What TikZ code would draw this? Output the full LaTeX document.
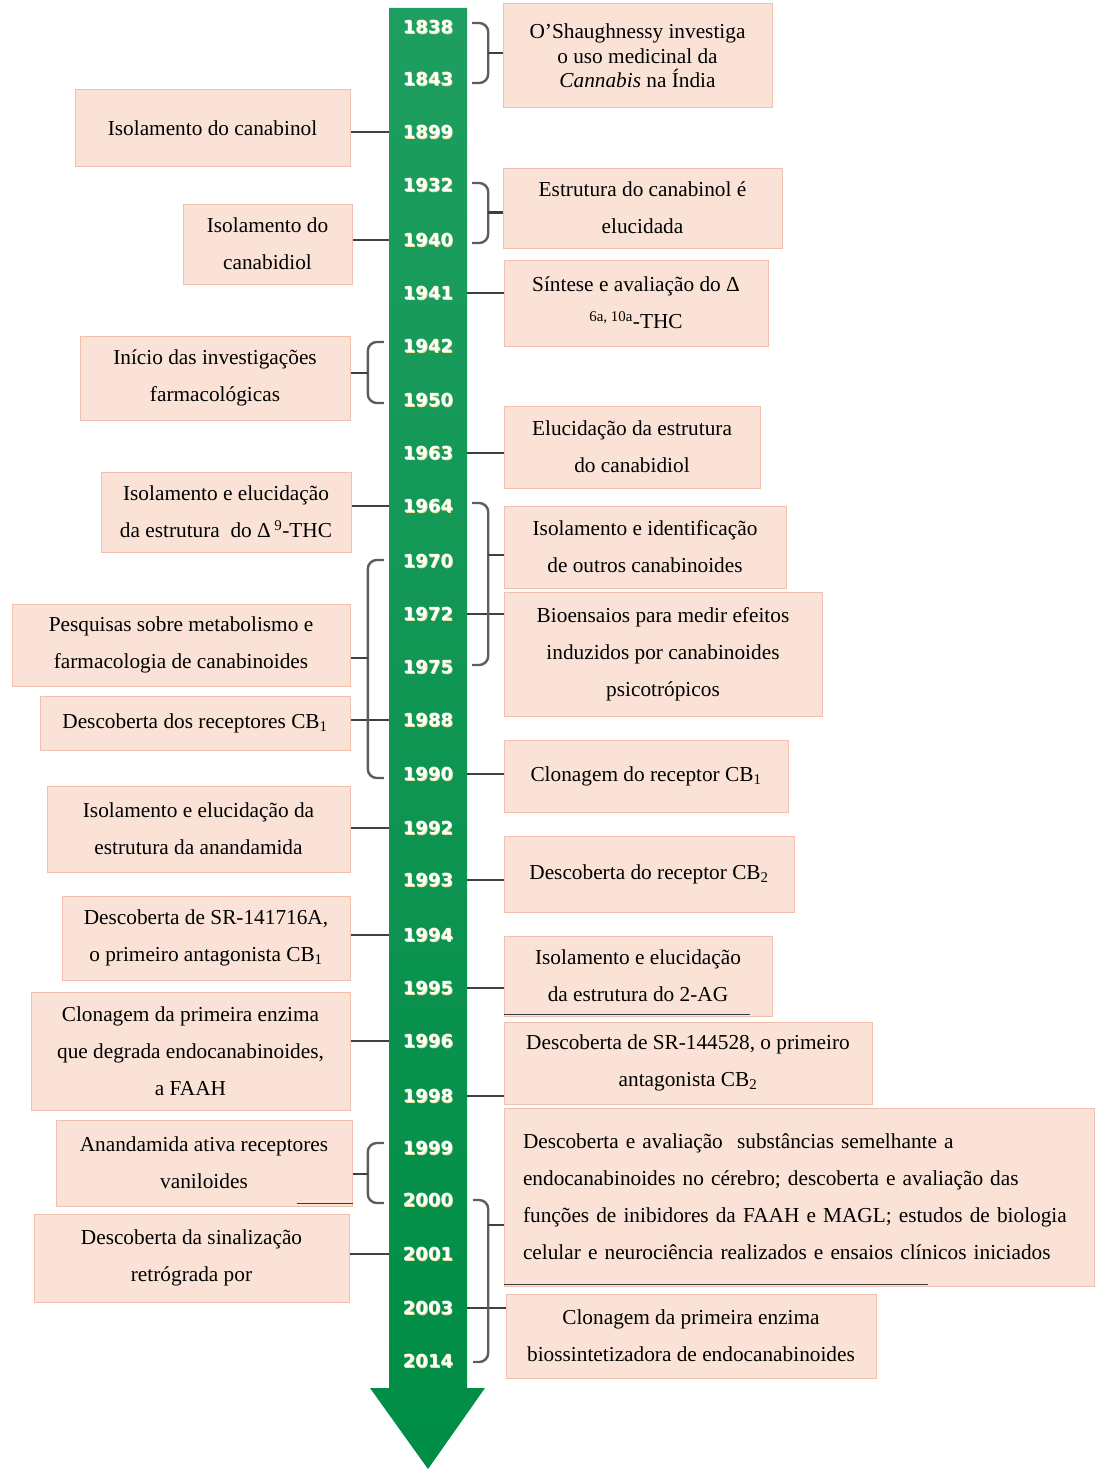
\documentclass[tikz,border=0pt]{standalone}
\usepackage{fontspec}
\setmainfont{Liberation Serif}
\newfontfamily\yearfont{DejaVu Sans}
\usetikzlibrary{calc}
\definecolor{boxfill}{HTML}{FAE3D6}
\definecolor{boxline}{HTML}{F0BFAE}
\definecolor{bartop}{HTML}{1E9E60}
\definecolor{barbot}{HTML}{008D45}
\definecolor{linkgray}{HTML}{404040}
\definecolor{bracegray}{HTML}{5C5C5C}
\definecolor{shadowgray}{HTML}{3A3A3A}
\definecolor{yearglow}{HTML}{E8E49A}
\tikzset{
  evbox/.style={draw=boxline, line width=1pt, fill=boxfill, align=center, inner sep=0pt,
    font=\fontsize{21.3}{37}\selectfont},
  year/.style={text=white, font=\yearfont\bfseries\fontsize{18}{18}\selectfont,
    minimum width=78pt, inner sep=0pt},
  link/.style={draw=linkgray, line width=2.2pt},
  brace/.style={draw=bracegray, line width=2.4pt, rounded corners=9pt},
  shadowline/.style={draw=shadowgray, line width=1.6pt},
}
\begin{document}
\begin{tikzpicture}[x=1pt, y=-1pt]
\useasboundingbox (0,0) rectangle (1101,1469);

% green time arrow
\shade[top color=bartop, bottom color=barbot]
  (389,8) -- (467,8) -- (467,1388) -- (485,1388) -- (428,1469) -- (370,1388) -- (389,1388) -- cycle;

% years on the arrow, each with a faint yellow halo behind it
\foreach \yr/\yy in {1838/27, 1843/79, 1899/132, 1932/185, 1940/240, 1941/293, 1942/346,
  1950/400, 1963/453, 1964/506, 1970/561, 1972/614, 1975/667, 1988/720, 1990/774,
  1992/828, 1993/880, 1994/935, 1995/988, 1996/1041, 1998/1096, 1999/1148, 2000/1200,
  2001/1254, 2003/1308, 2014/1361}{
  \node[year, text=yearglow] (g\yr) at (428.9,\yy+0.9) {\yr};
  \node[year] (y\yr) at (428,\yy) {\yr};
}

% events, right side
\node[evbox, minimum width=269pt, minimum height=104pt, font=\fontsize{21.3}{24.5}\selectfont]
  (R1) at (637.5,56) {O’Shaughnessy investiga\\o uso medicinal da\\\textit{Cannabis} na Índia};
\node[evbox, minimum width=279pt, minimum height=80pt] (R2) at (642.5,208)
  {Estrutura do canabinol é\\elucidada};
\node[evbox, minimum width=264pt, minimum height=86pt] (R3) at (636,303)
  {Síntese e avaliação do Δ\\\textsuperscript{6a, 10a}-THC};
\node[evbox, minimum width=256pt, minimum height=82pt] (R4) at (632,447)
  {Elucidação da estrutura\\do canabidiol};
\node[evbox, minimum width=282pt, minimum height=82pt] (R5) at (645,547)
  {Isolamento e identificação\\de outros canabinoides};
\node[evbox, minimum width=318pt, minimum height=124pt] (R6) at (663,654)
  {Bioensaios para medir efeitos\\induzidos por canabinoides\\psicotrópicos};
\node[evbox, minimum width=284pt, minimum height=72pt] (R7) at (646,776)
  {Clonagem do receptor CB\textsubscript{1}};
\node[evbox, minimum width=290pt, minimum height=76pt] (R8) at (649,874)
  {Descoberta do receptor CB\textsubscript{2}};
\node[evbox, minimum width=268pt, minimum height=80pt] (R9) at (638,976)
  {Isolamento e elucidação\\da estrutura do 2-AG};
\node[evbox, minimum width=368pt, minimum height=82pt] (R10) at (688,1063)
  {Descoberta de SR-144528, o primeiro\\antagonista CB\textsubscript{2}};
\node[evbox, minimum width=590pt, minimum height=178pt, align=left, text width=552pt]
  (R11) at (799,1197)
  {Descoberta e avaliação\ \ substâncias semelhante a\\endocanabinoides no cérebro; descoberta e avaliação das\\funções de inibidores da FAAH e MAGL; estudos de biologia\\celular e neurociência realizados e ensaios clínicos iniciados};
\node[evbox, minimum width=370pt, minimum height=84pt] (R12) at (691,1336)
  {Clonagem da primeira enzima\\biossintetizadora de endocanabinoides};

% events, left side
\node[evbox, minimum width=275pt, minimum height=76pt] (L1) at (212.5,128)
  {Isolamento do canabinol};
\node[evbox, minimum width=169pt, minimum height=80pt] (L2) at (267.5,244)
  {Isolamento do\\canabidiol};
\node[evbox, minimum width=270pt, minimum height=84pt] (L3) at (215,378)
  {Início das investigações\\farmacológicas};
\node[evbox, minimum width=250pt, minimum height=80pt] (L4) at (226,512)
  {Isolamento e elucidação\\da estrutura\ \ do Δ\,\textsuperscript{9}-THC};
\node[evbox, minimum width=338pt, minimum height=82pt] (L5) at (181,645)
  {Pesquisas sobre metabolismo e\\farmacologia de canabinoides};
\node[evbox, minimum width=310pt, minimum height=54pt] (L6) at (195,723)
  {Descoberta dos receptores CB\textsubscript{1}};
\node[evbox, minimum width=303pt, minimum height=86pt] (L7) at (198.5,829)
  {Isolamento e elucidação da\\estrutura da anandamida};
\node[evbox, minimum width=288pt, minimum height=84pt] (L8) at (206,938)
  {Descoberta de SR-141716A,\\o primeiro antagonista CB\textsubscript{1}};
\node[evbox, minimum width=319pt, minimum height=118pt] (L9) at (190.5,1051)
  {Clonagem da primeira enzima\\que degrada endocanabinoides,\\a FAAH};
\node[evbox, minimum width=296pt, minimum height=86pt] (L10) at (204,1163)
  {Anandamida ativa receptores\\vaniloides};
\node[evbox, minimum width=315pt, minimum height=88pt] (L11) at (191.5,1258)
  {Descoberta da sinalização\\retrógrada por};

% thin shadows under a few boxes
\draw[shadowline] ([yshift=2pt]R9.south west) -- ++(246,0);
\draw[shadowline] ([yshift=2pt]R11.south west) -- ++(424,0);
\draw[shadowline] ([yshift=3pt]L10.south east) -- ++(-56,0);

% single-year connectors
\draw[link] (y1899.west) -- (y1899.west -| L1.east);
\draw[link] (y1940.west) -- (y1940.west -| L2.east);
\draw[link] (y1941.east) -- (y1941.east -| R3.west);
\draw[link] (y1963.east) -- (y1963.east -| R4.west);
\draw[link] (y1964.west) -- (y1964.west -| L4.east);
\draw[link] (y1972.east) -- (y1972.east -| R6.west);
\draw[link] (y1988.west) -- (y1988.west -| L6.east);
\draw[link] (y1990.east) -- (y1990.east -| R7.west);
\draw[link] (y1992.west) -- (y1992.west -| L7.east);
\draw[link] (y1993.east) -- (y1993.east -| R8.west);
\draw[link] (y1994.west) -- (y1994.west -| L8.east);
\draw[link] (y1995.east) -- (y1995.east -| R9.west);
\draw[link] (y1996.west) -- (y1996.west -| L9.east);
\draw[link] (y1998.east) -- (y1998.east -| R10.west);
\draw[link] (y2001.west) -- (y2001.west -| L11.east);
\draw[link] (y2003.east) -- (y2003.east -| R12.west);

% brackets joining year ranges, right side
\draw[brace] ($(y1838.east)+(5,-4)$) -- ++(16,0) |- ($(y1843.east)+(5,4)$);
\coordinate (b1) at ($(y1838.east)!0.5!(y1843.east)+(21,0)$);
\draw[link] (b1) -- (b1 -| R1.west);

\draw[brace] ($(y1932.east)+(5,-2)$) -- ++(16,0) |- ($(y1940.east)+(5,3)$);
\coordinate (b2) at ($(y1932.east)!0.5!(y1940.east)+(21,0)$);
\draw[link] (b2) -- (b2 -| R2.west);

\draw[brace] ($(y1964.east)+(5,-3)$) -- ++(16,0) |- ($(y1975.east)+(5,-2)$);
\coordinate (b4) at ($(y1964.east)+(21,49)$);
\draw[link] (b4) -- (b4 -| R5.west);

\draw[brace] ($(y2000.east)+(6,0)$) -- ++(15,0) |- ($(y2014.east)+(6,1)$);
\coordinate (b7) at ($(y2000.east)+(21,25)$);
\draw[link] (b7) -- (b7 -| R11.west);

% brackets joining year ranges, left side
\draw[brace] ($(y1942.west)+(-5,-4)$) -- ++(-16,0) |- ($(y1950.west)+(-5,3)$);
\coordinate (b3) at ($(y1942.west)!0.5!(y1950.west)+(-21,0)$);
\draw[link] (b3) -- (b3 -| L3.east);

\draw[brace] ($(y1970.west)+(-5,-1)$) -- ++(-16,0) |- ($(y1990.west)+(-5,4)$);
\coordinate (b5) at ($(y1970.west)+(-21,97)$);
\draw[link] (b5) -- (b5 -| L5.east);

\draw[brace] ($(y1999.west)+(-5,-5)$) -- ++(-16,0) |- ($(y2000.west)+(-5,3)$);
\coordinate (b6) at ($(y1999.west)!0.5!(y2000.west)+(-21,0)$);
\draw[link] (b6) -- (b6 -| L10.east);
\end{tikzpicture}
\end{document}
